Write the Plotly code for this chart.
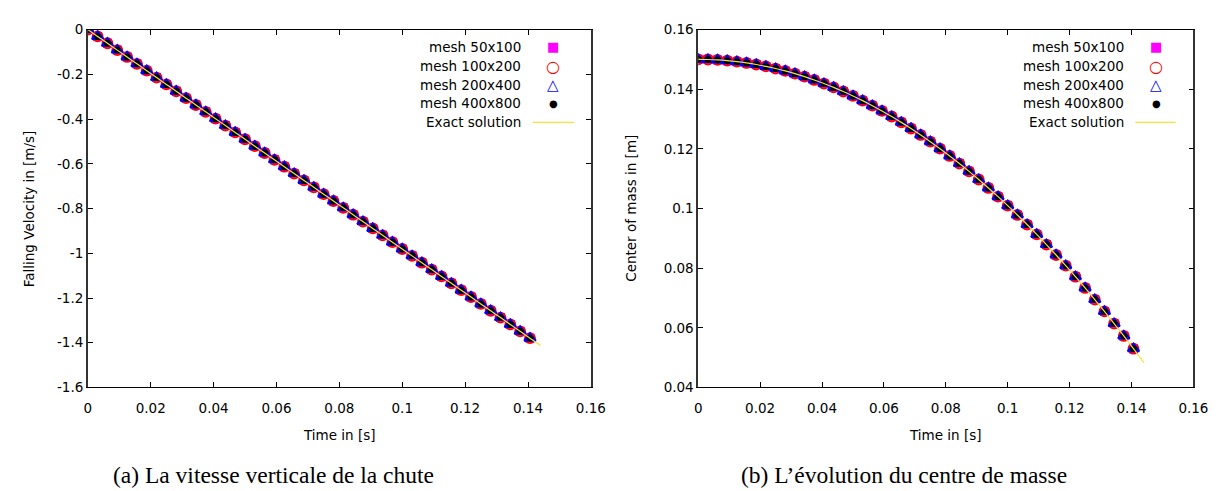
import plotly.graph_objects as go

# ---------------- data ----------------
time_s = [0.0, 0.003125, 0.00625, 0.009375, 0.0125, 0.015625, 0.01875, 0.021875, 0.025, 0.028125,
          0.03125, 0.034375, 0.0375, 0.040625, 0.04375, 0.046875, 0.05, 0.053125, 0.05625, 0.059375,
          0.0625, 0.065625, 0.06875, 0.071875, 0.075, 0.078125, 0.08125, 0.084375, 0.0875, 0.090625,
          0.09375, 0.096875, 0.1, 0.103125, 0.10625, 0.109375, 0.1125, 0.115625, 0.11875, 0.121875,
          0.125, 0.128125, 0.13125, 0.134375, 0.1375, 0.140625]

velocity_50x100 = [0.0, -0.0307, -0.0613, -0.0920, -0.1226, -0.1533, -0.1839, -0.2146, -0.2453, -0.2759,
                   -0.3066, -0.3372, -0.3679, -0.3985, -0.4292, -0.4598, -0.4905, -0.5212, -0.5518, -0.5825,
                   -0.6131, -0.6438, -0.6744, -0.7051, -0.7358, -0.7664, -0.7971, -0.8277, -0.8584, -0.8890,
                   -0.9197, -0.9503, -0.9810, -1.0117, -1.0423, -1.0730, -1.1036, -1.1343, -1.1649, -1.1956,
                   -1.2263, -1.2569, -1.2876, -1.3182, -1.3489, -1.3795]
velocity_100x200 = list(velocity_50x100)
velocity_200x400 = list(velocity_50x100)
velocity_400x800 = list(velocity_50x100)

center_50x100 = [0.15000, 0.14995, 0.14981, 0.14957, 0.14923, 0.14880, 0.14828, 0.14765, 0.14693, 0.14612,
                 0.14521, 0.14420, 0.14310, 0.14190, 0.14061, 0.13922, 0.13774, 0.13616, 0.13448, 0.13271,
                 0.13084, 0.12888, 0.12682, 0.12466, 0.12241, 0.12006, 0.11762, 0.11508, 0.11245, 0.10972,
                 0.10689, 0.10397, 0.10095, 0.09784, 0.09463, 0.09132, 0.08792, 0.08442, 0.08083, 0.07714,
                 0.07336, 0.06948, 0.06550, 0.06143, 0.05727, 0.05300]
center_100x200 = list(center_50x100)
center_200x400 = list(center_50x100)
center_400x800 = list(center_50x100)

exact_time = time_s + [0.144]
exact_velocity = velocity_50x100 + [-1.4126]
exact_center = center_50x100 + [0.04829]

series_names = ["mesh 50x100", "mesh 100x200", "mesh 200x400", "mesh 400x800", "Exact solution"]

x_ticks = [0, 0.02, 0.04, 0.06, 0.08, 0.1, 0.12, 0.14, 0.16]
x_ticktext = ["0", "0.02", "0.04", "0.06", "0.08", "0.1", "0.12", "0.14", "0.16"]
vel_ticks = [0, -0.2, -0.4, -0.6, -0.8, -1.0, -1.2, -1.4, -1.6]
vel_ticktext = ["0", "-0.2", "-0.4", "-0.6", "-0.8", "-1", "-1.2", "-1.4", "-1.6"]
com_ticks = [0.04, 0.06, 0.08, 0.1, 0.12, 0.14, 0.16]
com_ticktext = ["0.04", "0.06", "0.08", "0.1", "0.12", "0.14", "0.16"]

# ---------------- styling ----------------
FONT = "DejaVu Sans"
FS = 13.5
W, H = 1228, 491
MAG, RED, BLUE, BLK, YEL = "#ff00ff", "#ff0000", "#0000ff", "#000000", "#f5e13c"

fig = go.Figure()

def add_panel(xa, ya, ys):
    y50, y100, y200, y400, yex = ys
    fig.add_trace(go.Scatter(x=time_s, y=y50, mode="markers", xaxis=xa, yaxis=ya, showlegend=False,
                             marker=dict(symbol="square", size=9, color=MAG, line=dict(width=0))))
    fig.add_trace(go.Scatter(x=time_s, y=y100, mode="markers", xaxis=xa, yaxis=ya, showlegend=False,
                             marker=dict(symbol="circle-open", size=10, color=RED, line=dict(width=1.8))))
    fig.add_trace(go.Scatter(x=time_s, y=y200, mode="markers", xaxis=xa, yaxis=ya, showlegend=False,
                             marker=dict(symbol="triangle-up-open", size=10, color=BLUE, line=dict(width=2))))
    fig.add_trace(go.Scatter(x=time_s, y=y400, mode="markers", xaxis=xa, yaxis=ya, showlegend=False,
                             marker=dict(symbol="circle", size=7, color=BLK, line=dict(width=0))))
    fig.add_trace(go.Scatter(x=exact_time, y=yex, mode="lines", xaxis=xa, yaxis=ya, showlegend=False,
                             line=dict(color=YEL, width=1.2, shape="spline")))

add_panel("x", "y", [velocity_50x100, velocity_100x200, velocity_200x400, velocity_400x800, exact_velocity])
add_panel("x2", "y2", [center_50x100, center_100x200, center_200x400, center_400x800, exact_center])

# plot areas in pixels
L1, R1 = 77, 588
L2, R2 = 697, 1200
TOP, BOT = 14, 384

def px(x):
    return x / W

def py(y):
    return 1 - y / H

axis_common = dict(showline=True, mirror="allticks",
                   ticks="inside", ticklen=5, tickcolor="black", tickwidth=1,
                   showgrid=False, zeroline=False,
                   tickfont=dict(family=FONT, size=FS, color="black"))
x_style = dict(linecolor="black", linewidth=1, ticklabelstandoff=8, **axis_common)
y_style = dict(linecolor="#333333", linewidth=1.6, **axis_common)

fig.update_layout(
    width=W, height=H,
    margin=dict(l=0, r=0, t=0, b=0),
    paper_bgcolor="white", plot_bgcolor="white",
    showlegend=False,
    xaxis=dict(domain=[px(L1), px(R1)], range=[0, 0.16], tickvals=x_ticks, ticktext=x_ticktext,
               anchor="y", **x_style),
    yaxis=dict(domain=[py(BOT), py(TOP)], range=[-1.6, 0], tickvals=vel_ticks, ticktext=vel_ticktext,
               anchor="x", **y_style),
    xaxis2=dict(domain=[px(L2), px(R2)], range=[0, 0.16], tickvals=x_ticks, ticktext=x_ticktext,
                anchor="y2", **x_style),
    yaxis2=dict(domain=[py(BOT), py(TOP)], range=[0.04, 0.16], tickvals=com_ticks, ticktext=com_ticktext,
                anchor="x2", **y_style),
)

annotations = []
shapes = []

def text_ann(x, y, text, size=FS, family=FONT, xanchor="center", color="black", angle=0):
    annotations.append(dict(x=px(x), y=py(y), xref="paper", yref="paper", text=text, showarrow=False,
                            xanchor=xanchor, yanchor="middle", textangle=angle,
                            font=dict(family=family, size=size, color=color)))

# axis titles
text_ann((L1 + R1) / 2, 433, "Time in [s]")
text_ann((L2 + R2) / 2, 433, "Time in [s]")
text_ann(17, (TOP + BOT) / 2, "Falling Velocity in [m/s]", angle=-90)
text_ann(628, (TOP + BOT) / 2, "Center of mass in [m]", angle=-90)

# captions
text_ann(266, 474, "(a) La vitesse verticale de la chute", size=23.5, family="Liberation Serif")
text_ann(906, 474, "(b) L\u2019\u00e9volution du centre de masse", size=23.5, family="Liberation Serif")

# legends (gnuplot style: right-aligned text, key on the right)
legend_rows = [32, 52, 71, 90, 110]
symbols = [("\u25a0", MAG, 13), ("\u25cb", RED, 16), ("\u25b3", BLUE, 15), ("\u25cf", BLK, 10)]
for text_right, sym_x, line_l, line_r in [(519, 550, 529, 571), (1131, 1162, 1141, 1182)]:
    for name, yrow in zip(series_names, legend_rows):
        text_ann(text_right, yrow, name, xanchor="right")
    for (ch, col, sz), yrow in zip(symbols, legend_rows[:4]):
        text_ann(sym_x, yrow, ch, size=sz, color=col)
    shapes.append(dict(type="line", xref="paper", yref="paper", x0=px(line_l), x1=px(line_r),
                       y0=py(legend_rows[4]), y1=py(legend_rows[4]), line=dict(color=YEL, width=1.2)))

fig.update_layout(annotations=annotations, shapes=shapes)

fig.write_html("out.html")
